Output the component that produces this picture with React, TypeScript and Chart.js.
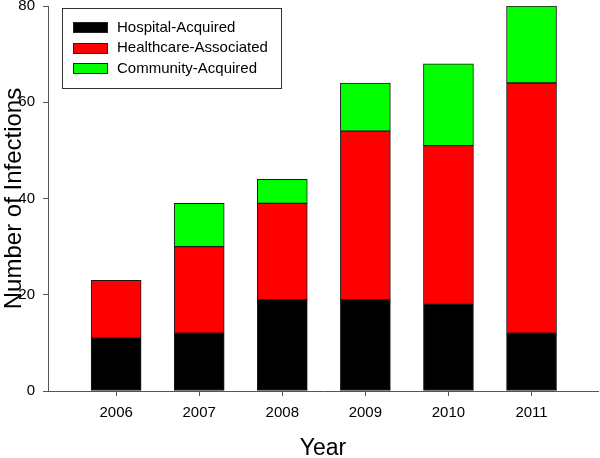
import React, { useEffect, useRef } from 'react';
import { Chart, registerables } from 'chart.js';

Chart.register(...registerables);

const years = [2006, 2007, 2008, 2009, 2010, 2011];
const hospitalAcquired = [11, 12, 19, 19, 18, 12];
const healthcareAssociated = [12, 18, 20, 35, 33, 52];
const communityAcquired = [0, 9, 5, 10, 17, 16];
const yTickValues = [0, 20, 40, 60, 80];
const seriesLabels = ['Hospital-Acquired', 'Healthcare-Associated', 'Community-Acquired'];
const seriesColors = ['#000000', '#ff0000', '#00ff00'];

const FONT = '"Liberation Sans", Arial, sans-serif';

const boxLegend = {
  id: 'boxLegend',
  afterDraw(chart: any) {
    const ctx = chart.ctx;
    const a = chart.chartArea;
    const x0 = a.left + 14;
    const y0 = a.top + 2;
    const w = 219;
    const h = 80;
    ctx.save();
    ctx.fillStyle = '#ffffff';
    ctx.fillRect(x0, y0, w, h);
    ctx.strokeStyle = '#333333';
    ctx.lineWidth = 1;
    ctx.strokeRect(x0 + 0.5, y0 + 0.5, w, h);
    chart.data.datasets.forEach((ds: any, i: number) => {
      const cy = y0 + 19.5 + i * 20.5;
      ctx.fillStyle = ds.backgroundColor;
      ctx.fillRect(x0 + 11, Math.round(cy - 5.5), 35, 11);
      ctx.strokeStyle = '#222222';
      ctx.strokeRect(x0 + 11.5, Math.round(cy - 5.5) + 0.5, 34, 10);
      ctx.fillStyle = '#000000';
      ctx.font = `15px ${FONT}`;
      ctx.textBaseline = 'middle';
      ctx.textAlign = 'left';
      ctx.fillText(ds.label, x0 + 55, cy);
    });
    ctx.restore();
  },
};

const seriesValues = [hospitalAcquired, healthcareAssociated, communityAcquired];

export default function App() {
  const canvasRef = useRef<HTMLCanvasElement>(null);

  useEffect(() => {
    if (!canvasRef.current) return;
    const datasets = seriesValues.map((vals, i) => ({
      label: seriesLabels[i],
      data: years.map((y, j) => ({ x: y, y: vals[j] })),
      backgroundColor: seriesColors[i],
      borderColor: '#1a1a1a',
      borderWidth: 1,
      borderSkipped: false,
      barThickness: 50,
    }));

    const chart = new Chart(canvasRef.current, {
      type: 'bar',
      data: { datasets } as any,
      options: {
        animation: false,
        responsive: false,
        devicePixelRatio: 1,
        layout: { padding: { left: 0, right: 2, top: 6, bottom: 0 } },
        plugins: {
          legend: { display: false },
          tooltip: { enabled: false },
        },
        scales: {
          x: {
            type: 'linear',
            stacked: true,
            min: 2005.18,
            max: 2011.8,
            offset: false,
            afterBuildTicks: (s: any) => {
              s.ticks = years.map((v) => ({ value: v }));
            },
            afterFit: (s: any) => {
              s.height = 67;
              s.paddingLeft = 0;
              s.paddingRight = 0;
            },
            ticks: {
              callback: (v: any) => String(v),
              font: { size: 15, family: FONT },
              color: '#000000',
              padding: 8,
              maxRotation: 0,
              autoSkip: false,
            },
            grid: {
              display: true,
              offset: false,
              drawOnChartArea: false,
              drawTicks: true,
              tickLength: 5,
              color: '#555555',
            },
            border: { display: true, color: '#555555', width: 1 },
            title: {
              display: true,
              text: 'Year',
              font: { size: 23, family: FONT, lineHeight: 1 },
              color: '#000000',
              padding: { top: 0, bottom: -2 },
            },
          },
          y: {
            stacked: true,
            min: 0,
            max: 80,
            afterBuildTicks: (s: any) => {
              s.ticks = yTickValues.map((v) => ({ value: v }));
            },
            afterFit: (s: any) => {
              s.width = 48;
              s.paddingTop = 0;
              s.paddingBottom = 0;
            },
            ticks: {
              font: { size: 15, family: FONT },
              color: '#000000',
              padding: 8,
            },
            grid: {
              display: true,
              offset: false,
              drawOnChartArea: false,
              drawTicks: true,
              tickLength: 5,
              color: '#555555',
            },
            border: { display: true, color: '#555555', width: 1 },
            title: {
              display: true,
              text: 'Number of Infections',
              font: { size: 24, family: FONT, lineHeight: 1 },
              color: '#000000',
              padding: { top: 2, bottom: 0 },
            },
          },
        },
      } as any,
      plugins: [boxLegend],
    });
    return () => chart.destroy();
  }, []);

  return (
    <div style={{ position: 'fixed', left: 0, top: 0, width: 600, height: 458, background: '#ffffff' }}>
      <canvas ref={canvasRef} width={600} height={458} style={{ display: 'block' }} />
    </div>
  );
}
